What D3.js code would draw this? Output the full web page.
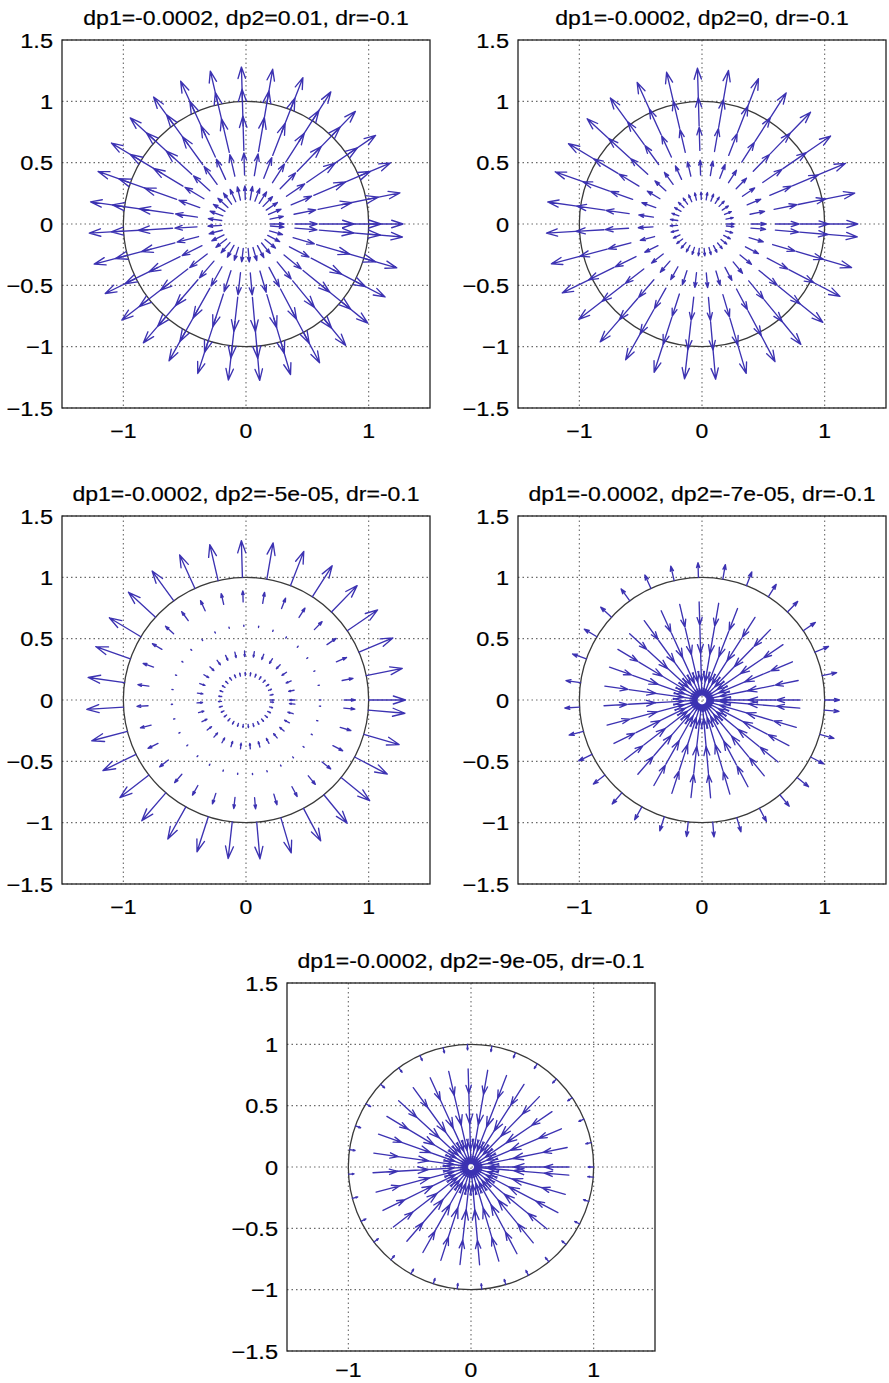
<!DOCTYPE html>
<html>
<head>
<meta charset="utf-8">
<script src="https://cdn.jsdelivr.net/npm/d3@7"></script>
<style>
  body { margin: 0; background: #fff; overflow: hidden; }
  text { font-family: "Liberation Sans", Arial, sans-serif; fill: #000; stroke: #000; stroke-width: 0.2; }
  .grid line { stroke: #6a6a6a; stroke-dasharray: 1.5, 3; stroke-width: 1.1; }
  .frame { fill: none; stroke: #222; stroke-width: 1.3; }
  .unit { fill: none; stroke: #3a3a3a; stroke-width: 1.3; }
  .quiver path { fill: none; stroke: #3c32b2; stroke-width: 1.35; stroke-linecap: round; stroke-linejoin: round; }
</style>
</head>
<body>
<script>
var width = 889,
    height = 1383;

// sample points: angles 0:0.2:6.2 rad, rings at these radii
var angles = [0, 0.2, 0.4, 0.6, 0.8, 1.0, 1.2, 1.4, 1.6, 1.8, 2.0, 2.2, 2.4, 2.6, 2.8, 3.0,
              3.2, 3.4, 3.6, 3.8, 4.0, 4.2, 4.4, 4.6, 4.8, 5.0, 5.2, 5.4, 5.6, 5.8, 6.0, 6.2];
var radii = [0.2, 0.4, 0.6, 0.8, 1.0];

// radial arrow length on each ring, one list per panel
var radial1 = [0.11, 0.18, 0.28, 0.30, 0.28];
var radial2 = [0.06, 0.12, 0.19, 0.23, 0.27];
var radial3 = [0.025, -0.045, 0.01, 0.09, 0.30];
var radial4 = [-0.16, -0.25, -0.22, -0.19, 0.12];
var radial5 = [-0.17, -0.26, -0.25, -0.20, -0.045];

var titles = [
  "dp1=-0.0002, dp2=0.01, dr=-0.1",
  "dp1=-0.0002, dp2=0, dr=-0.1",
  "dp1=-0.0002, dp2=-5e-05, dr=-0.1",
  "dp1=-0.0002, dp2=-7e-05, dr=-0.1",
  "dp1=-0.0002, dp2=-9e-05, dr=-0.1"
];

var xTicks = [-1, 0, 1];
var yTicks = [-1.5, -1, -0.5, 0, 0.5, 1, 1.5];
var axisRange = [-1.5, 1.5];
var circleR = 1;

var size = 368;
var panels = [
  {left: 62,  top: 40,  title: titles[0], radial: radial1, xlab: 30},
  {left: 518, top: 40,  title: titles[1], radial: radial2, xlab: 30},
  {left: 62,  top: 516, title: titles[2], radial: radial3, xlab: 30},
  {left: 518, top: 516, title: titles[3], radial: radial4, xlab: 30},
  {left: 287, top: 983, title: titles[4], radial: radial5, xlab: 26}
];

var svg = d3.select("body").append("svg")
    .attr("width", width)
    .attr("height", height);

var stretch = 1.15; // glyphs in the picture are wider than Arial

function label(g, x, y, txt, anchor, fs) {
  g.append("text")
    .attr("transform", "translate(" + x + "," + y + ") scale(" + stretch + ",1)")
    .attr("text-anchor", anchor)
    .style("font-size", fs + "px")
    .text(txt);
}

// matlab style quiver arrow: shaft plus two head strokes
function arrowPath(x0, y0, u, v, x, y) {
  var alpha = 0.33, beta = 0.33;
  var tx = x0 + u, ty = y0 + v;
  var h1x = tx - alpha * (u + beta * v), h1y = ty - alpha * (v - beta * u);
  var h2x = tx - alpha * (u - beta * v), h2y = ty - alpha * (v + beta * u);
  return "M" + x(x0) + "," + y(y0) + "L" + x(tx) + "," + y(ty) +
         "M" + x(h1x) + "," + y(h1y) + "L" + x(tx) + "," + y(ty) + "L" + x(h2x) + "," + y(h2y);
}

panels.forEach(function(p) {
  var x = d3.scaleLinear().domain(axisRange).range([0, size]);
  var y = d3.scaleLinear().domain(axisRange).range([size, 0]);

  var g = svg.append("g")
      .attr("transform", "translate(" + p.left + "," + p.top + ")");

  var grid = g.append("g").attr("class", "grid");
  grid.selectAll(".gx").data(xTicks).enter().append("line")
      .attr("x1", x).attr("x2", x)
      .attr("y1", 0).attr("y2", size);
  grid.selectAll(".gy").data(yTicks).enter().append("line")
      .attr("y1", y).attr("y2", y)
      .attr("x1", 0).attr("x2", size);

  g.append("circle")
      .attr("class", "unit")
      .attr("cx", x(0)).attr("cy", y(0))
      .attr("r", x(circleR) - x(0));

  var arrows = [];
  radii.forEach(function(r, i) {
    angles.forEach(function(a) {
      var c = Math.cos(a), s = Math.sin(a);
      arrows.push({x0: r * c, y0: r * s, u: p.radial[i] * c, v: p.radial[i] * s});
    });
  });

  g.append("g").attr("class", "quiver")
    .selectAll("path").data(arrows).enter().append("path")
      .attr("d", function(d) { return arrowPath(d.x0, d.y0, d.u, d.v, x, y); });

  g.append("rect")
      .attr("class", "frame")
      .attr("width", size).attr("height", size);

  xTicks.forEach(function(t) {
    label(g, x(t), size + p.xlab, d3.format("")(t), "middle", 20);
  });
  yTicks.forEach(function(t) {
    label(g, -9, y(t) + 7.5, d3.format("")(t), "end", 20.5);
  });

  label(g, size / 2, -15, p.title, "middle", 20);
});
</script>
</body>
</html>
